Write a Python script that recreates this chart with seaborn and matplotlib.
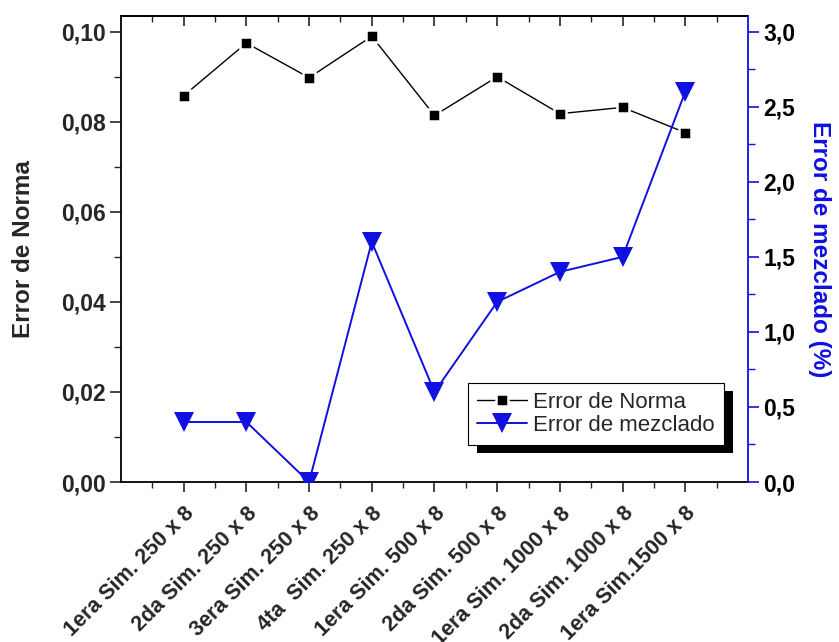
import matplotlib
matplotlib.use("Agg")
import matplotlib.pyplot as plt
import seaborn as sns
import pandas as pd
import numpy as np
from matplotlib.ticker import FuncFormatter, MultipleLocator
from matplotlib.lines import Line2D
from matplotlib.patches import Rectangle
from matplotlib.transforms import IdentityTransform

simulaciones = ["1era Sim. 250 x 8", "2da Sim. 250 x 8", "3era Sim. 250 x 8",
                "4ta  Sim. 250 x 8", "1era Sim. 500 x 8", "2da Sim. 500 x 8",
                "1era Sim. 1000 x 8", "2da Sim. 1000 x 8", "1era Sim.1500 x 8"]
error_norma = [0.0858, 0.0975, 0.0898, 0.0990, 0.0814, 0.0900, 0.0818, 0.0832, 0.0776]
error_mezclado = [0.4, 0.4, 0.0, 1.6, 0.6, 1.2, 1.4, 1.5, 2.6]

sns.set_style("ticks")
plt.rcParams["font.family"] = ["Liberation Sans", "DejaVu Sans"]

df = pd.DataFrame({"pos": np.arange(len(simulaciones)),
                   "norma": error_norma, "mezclado": error_mezclado})

fig = plt.figure(figsize=(8.39, 6.42), dpi=100)
ax = fig.add_axes([0.1442, 0.2492, 0.8915 - 0.1442, 0.9751 - 0.2492])
ax2 = ax.twinx()

BLUE = "#1010e0"
# squares get a thin white rim so the connecting line stops short of them
sq_style = dict(marker="s", markersize=9.2, markeredgewidth=1.8,
                markeredgecolor="white", markerfacecolor="black")
tri_style = dict(marker="v", markersize=14, markeredgewidth=0)

sns.lineplot(data=df, x="pos", y="norma", ax=ax, color="black", lw=1.0,
             legend=False, **sq_style)
sns.lineplot(data=df, x="pos", y="mezclado", ax=ax2, color=BLUE, lw=1.4,
             legend=False, **tri_style)

comma = lambda fmt: FuncFormatter(lambda v, p: (fmt % v).replace(".", ","))

ax.set_xlim(-1, 9)
ax.set_ylim(0, 0.1035)
ax2.set_ylim(0, 3.105)

ax.yaxis.set_major_locator(MultipleLocator(0.02))
ax.yaxis.set_minor_locator(MultipleLocator(0.01))
ax.yaxis.set_major_formatter(comma("%.2f"))
ax2.yaxis.set_major_locator(MultipleLocator(0.5))
ax2.yaxis.set_minor_locator(MultipleLocator(0.25))
ax2.yaxis.set_major_formatter(comma("%.1f"))

ax.set_xticks(df["pos"])
ax.set_xticks(np.arange(-0.5, 9.0, 1.0), minor=True)
ax.set_xticklabels(simulaciones, rotation=45, ha="right", va="top",
                   rotation_mode="anchor", fontsize=15.5, fontweight="bold")
ax.set_xlabel("")

ax.tick_params(axis="y", which="major", length=8, width=1.2, labelsize=16.5,
               direction="out", pad=3)
ax.tick_params(axis="y", which="minor", length=5, width=1.0, direction="out")
ax.tick_params(axis="x", which="major", length=7, width=1.2, direction="out", pad=8)
ax.tick_params(axis="x", which="minor", length=4, width=1.0, direction="out")
for t in ax.get_yticklabels():
    t.set_fontweight("bold")

ax2.tick_params(axis="y", which="major", length=8, width=1.2, labelsize=16.5,
                direction="out", colors=BLUE, labelcolor="black", pad=3)
ax2.tick_params(axis="y", which="minor", length=5, width=1.0, direction="out",
                colors=BLUE)
for t in ax2.get_yticklabels():
    t.set_fontweight("bold")

top = ax.secondary_xaxis("top")
top.set_xticks(df["pos"])
top.set_xticks(np.arange(-0.5, 9.0, 1.0), minor=True)
top.tick_params(axis="x", which="major", direction="in", length=7, width=1.2,
                labeltop=False)
top.tick_params(axis="x", which="minor", direction="in", length=4, width=1.0)
top.spines["top"].set_linewidth(1.3)

for s in ["left", "bottom", "top"]:
    ax.spines[s].set_linewidth(1.3)
    ax.spines[s].set_color("black")
ax.spines["right"].set_visible(False)
for s in ["left", "bottom", "top"]:
    ax2.spines[s].set_visible(False)
ax2.spines["right"].set_color(BLUE)
ax2.spines["right"].set_linewidth(1.3)

ax.set_ylabel("Error de Norma", fontsize=17.5, fontweight="bold", labelpad=19)
ax2.set_ylabel("Error de mezclado (%)", fontsize=17.5, fontweight="bold",
               color=BLUE, rotation=270, labelpad=26)

handles = [Line2D([], [], color="black", lw=1.0, **sq_style),
           Line2D([], [], color=BLUE, lw=1.4, **tri_style)]
leg = ax2.legend(handles, ["Error de Norma", "Error de mezclado"],
                 loc="upper left", bbox_to_anchor=(0.553, 0.2124),
                 fontsize=16, frameon=True, fancybox=False, handlelength=2.25,
                 borderpad=0.4, labelspacing=0.1, handletextpad=0.3,
                 borderaxespad=0, framealpha=1)
leg.get_frame().set_edgecolor("black")
leg.get_frame().set_facecolor("white")
leg.get_frame().set_linewidth(0.8)
leg.set_zorder(6)

fig.canvas.draw()
bb = leg.get_window_extent()
shadow = Rectangle((bb.x0 + 9, bb.y0 - 8), bb.width, bb.height,
                   transform=IdentityTransform(), facecolor="black",
                   edgecolor="none", zorder=5.9, clip_on=False)
ax2.add_artist(shadow)

fig.savefig("out.png", dpi=100)
